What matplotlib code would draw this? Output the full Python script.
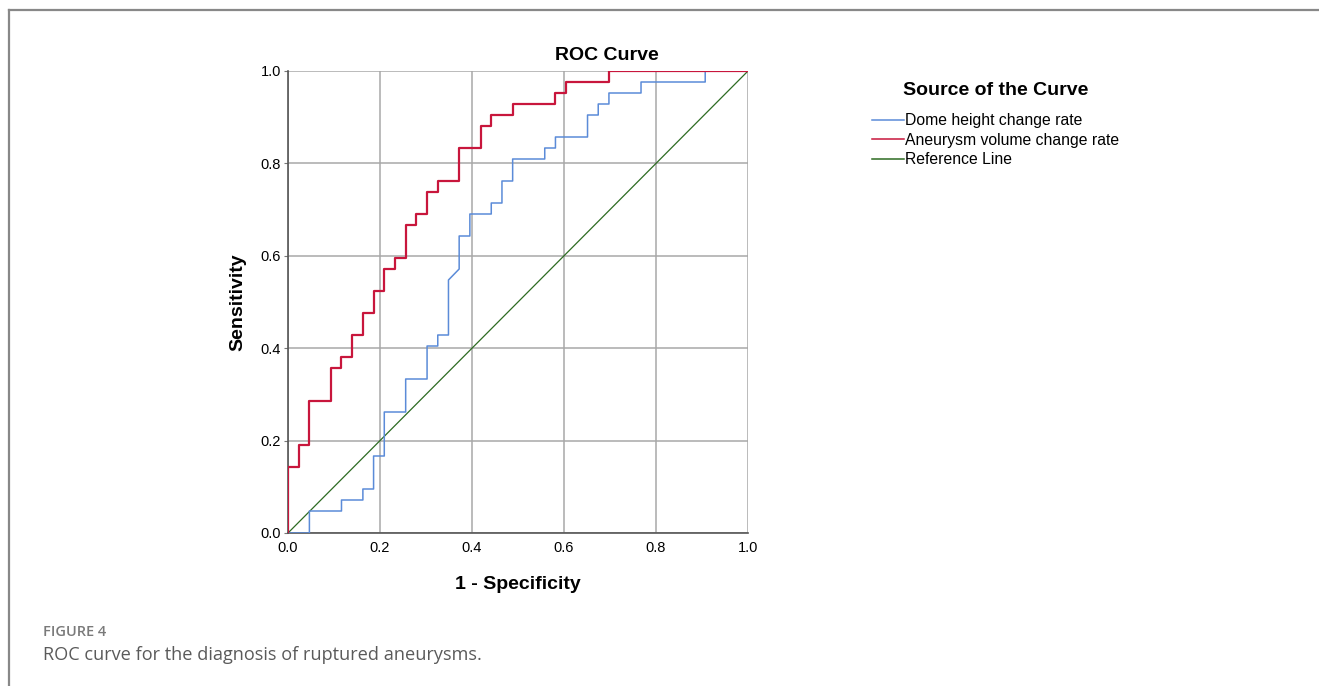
import matplotlib.pyplot as plt
from matplotlib.lines import Line2D

# counts: 43 negatives, 42 positives
n_neg = 43
n_pos = 42

# vertices of the ROC staircase as (false positive count, true positive count)
dome_fp = [0, 2, 2, 5, 5, 7, 7, 8, 8, 9, 9, 11, 11, 13, 13, 14, 14, 15, 15, 16, 16,
           17, 17, 19, 19, 20, 20, 21, 21, 24, 24, 25, 25, 28, 28, 29, 29, 30, 30,
           33, 33, 39, 39, 43]
dome_tp = [0, 0, 2, 2, 3, 3, 4, 4, 7, 7, 11, 11, 14, 14, 17, 17, 18, 18, 23, 24, 27,
           27, 29, 29, 30, 30, 32, 32, 34, 34, 35, 35, 36, 36, 38, 38, 39, 39, 40,
           40, 41, 41, 42, 42]

vol_fp = [0, 0, 1, 1, 2, 2, 4, 4, 5, 5, 6, 6, 7, 7, 8, 8, 9, 9, 10, 10, 11, 11, 12,
          12, 13, 13, 14, 14, 16, 16, 18, 18, 19, 19, 21, 21, 25, 25, 26, 26, 30,
          30, 43]
vol_tp = [0, 6, 6, 8, 8, 12, 12, 15, 15, 16, 16, 18, 18, 20, 20, 22, 22, 24, 24, 25,
          25, 28, 28, 29, 29, 31, 31, 32, 32, 35, 35, 37, 37, 38, 38, 39, 39, 40,
          40, 41, 41, 42, 42]

ticks = [0.0, 0.2, 0.4, 0.6, 0.8, 1.0]
series_names = ['Dome height change rate', 'Aneurysm volume change rate', 'Reference Line']
colors = ['#5b8bd8', '#c8163c', '#2d6b22']

plt.rcParams['font.family'] = ['Liberation Sans', 'DejaVu Sans']

fig = plt.figure(figsize=(13.19, 6.86), dpi=100)
ax = fig.add_axes([288 / 1319, 153 / 686, 460 / 1319, 462 / 686])

ax.plot([x / n_neg for x in dome_fp], [y / n_pos for y in dome_tp],
        color=colors[0], lw=1.1, zorder=3)
ax.plot([x / n_neg for x in vol_fp], [y / n_pos for y in vol_tp],
        color=colors[1], lw=1.6, zorder=4)
ax.plot([0, 1], [0, 1], color=colors[2], lw=0.9, zorder=2)

ax.set_xlim(0, 1)
ax.set_ylim(0, 1)
ax.set_xticks(ticks)
ax.set_yticks(ticks)
ax.set_xticklabels([f'{t:.1f}' for t in ticks])
ax.set_yticklabels([f'{t:.1f}' for t in ticks])
ax.grid(True, color='#a8a8a8', lw=1.1)
ax.set_axisbelow(True)
for s in ['top', 'right']:
    ax.spines[s].set_visible(False)
for s in ['left', 'bottom']:
    ax.spines[s].set_color('#555555')
    ax.spines[s].set_linewidth(1.2)
ax.tick_params(axis='y', length=3, color='#777777', labelsize=10.5, pad=2)
ax.tick_params(axis='x', length=0, labelsize=10.5, pad=6)

ax.set_xlabel('1 - Specificity', fontsize=14, fontweight='bold', labelpad=15)
ax.set_ylabel('Sensitivity', fontsize=14, fontweight='bold', labelpad=10)
fig.text(607 / 1319, 1 - 56 / 686, 'ROC Curve', fontsize=14, fontweight='bold',
         ha='center', va='center')

handles = [Line2D([], [], color=c, lw=1.1) for c in colors]
leg = fig.legend(handles, series_names, loc='upper left',
                 bbox_to_anchor=(858 / 1319, 1 - 68 / 686), frameon=False,
                 fontsize=11.3, handlelength=2.0, handletextpad=0.1,
                 labelspacing=0.3, title='Source of the Curve',
                 title_fontproperties={'weight': 'bold', 'size': 14})
leg._legend_box.sep = 10

# page frame and caption
fig.add_artist(Line2D([9 / 1319, 9 / 1319], [0, 1 - 10 / 686], color='#888888', lw=1.6))
fig.add_artist(Line2D([9 / 1319, 1], [1 - 10 / 686, 1 - 10 / 686], color='#888888', lw=1.6))
fig.text(43 / 1319, 1 - 632 / 686, 'FIGURE 4', fontsize=10.5, color='#7a7a7a',
         family=['Open Sans', 'DejaVu Sans'], fontweight='semibold', va='center')
fig.text(43 / 1319, 1 - 655 / 686, 'ROC curve for the diagnosis of ruptured aneurysms.',
         fontsize=13.1, color='#5a5a5a', family=['Open Sans', 'DejaVu Sans'], va='center')

fig.savefig('out.png', dpi=100)
